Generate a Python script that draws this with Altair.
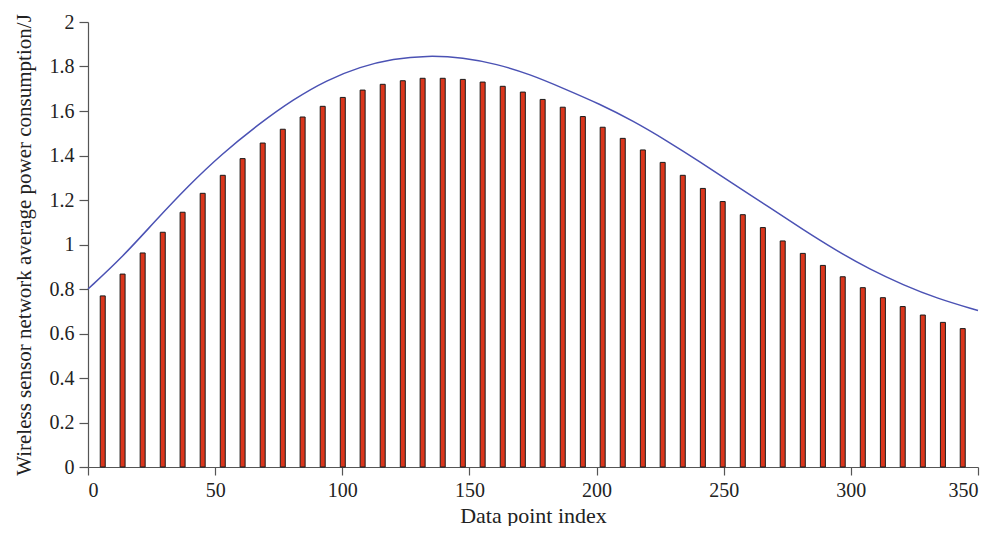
import altair as alt
import pandas as pd

bar_x = [5.8, 13.6, 21.5, 29.4, 37.2, 45.1, 53.0, 60.8, 68.7, 76.6, 84.4, 92.3,
         100.2, 108.0, 115.9, 123.8, 131.6, 139.5, 147.4, 155.2, 163.1, 171.0,
         178.8, 186.7, 194.6, 202.4, 210.3, 218.2, 226.0, 233.9, 241.8, 249.6,
         257.5, 265.4, 273.2, 281.1, 289.0, 296.8, 304.7, 312.6, 320.4, 328.3,
         336.2, 344.0]
bar_y = [0.769, 0.867, 0.962, 1.055, 1.145, 1.230, 1.311, 1.386, 1.456, 1.518,
         1.573, 1.621, 1.661, 1.694, 1.720, 1.736, 1.747, 1.747, 1.742, 1.730,
         1.711, 1.685, 1.652, 1.617, 1.575, 1.527, 1.477, 1.425, 1.369, 1.311,
         1.252, 1.193, 1.134, 1.076, 1.016, 0.960, 0.906, 0.855, 0.806, 0.761,
         0.721, 0.683, 0.650, 0.622]

curve_x = [0, 13.1, 26.2, 39.3, 52.4, 67.6, 80.7, 93.9, 107.0, 120.1, 133.2,
           147.6, 160.7, 173.8, 186.9, 201.3, 214.4, 227.5, 240.6, 253.7,
           268.2, 281.3, 294.4, 307.5, 320.6, 333.7, 350]
curve_y = [0.800, 0.938, 1.103, 1.262, 1.405, 1.545, 1.652, 1.739, 1.799, 1.835,
           1.849, 1.841, 1.811, 1.765, 1.702, 1.631, 1.555, 1.467, 1.372, 1.272,
           1.165, 1.066, 0.972, 0.888, 0.818, 0.758, 0.703]

x_ticks = [0, 50, 100, 150, 200, 250, 300, 350]
y_ticks = [0, 0.2, 0.4, 0.6, 0.8, 1.0, 1.2, 1.4, 1.6, 1.8, 2.0]

bars_df = pd.DataFrame({"x": bar_x, "y": bar_y})
curve_df = pd.DataFrame({"x": curve_x, "y": curve_y})

FONT = "Liberation Serif"

x_enc = alt.X("x:Q", scale=alt.Scale(domain=[0, 350], nice=False, padding=0),
              axis=alt.Axis(title="Data point index", values=x_ticks, grid=False,
                            tickSize=8, labelPadding=5, titlePadding=5,
                            format="d", titleFontSize=22))
y_enc = alt.Y("y:Q", scale=alt.Scale(domain=[0, 2], nice=False, padding=0),
              axis=alt.Axis(title="Wireless sensor network average power consumption/J",
                            values=y_ticks, grid=False, tickSize=9, labelPadding=5,
                            titlePadding=15, format="~g", titleFontSize=21))

bars = alt.Chart(bars_df).mark_bar(size=5, fill="#da361c", stroke="#1a1a1a",
                                   strokeWidth=1).encode(x=x_enc, y=y_enc)

line = alt.Chart(curve_df).mark_line(color="#4b52b4", strokeWidth=1.5,
                                     interpolate="basis").encode(x="x:Q", y="y:Q")

chart = alt.layer(bars, line).properties(
    width=890, height=445,
    autosize=alt.AutoSizeParams(type="none"),
    padding={"left": 80, "top": 14, "right": 9, "bottom": 59},
).configure_view(stroke=None).configure_axis(
    domainColor="#555555", tickColor="#555555", labelColor="#222222",
    titleColor="#222222", labelFont=FONT, titleFont=FONT, labelFontSize=20,
    titleFontWeight="normal", domainWidth=1.2, tickWidth=1.2,
)

chart.save("out.html", embed_options={"renderer": "svg", "actions": False})
